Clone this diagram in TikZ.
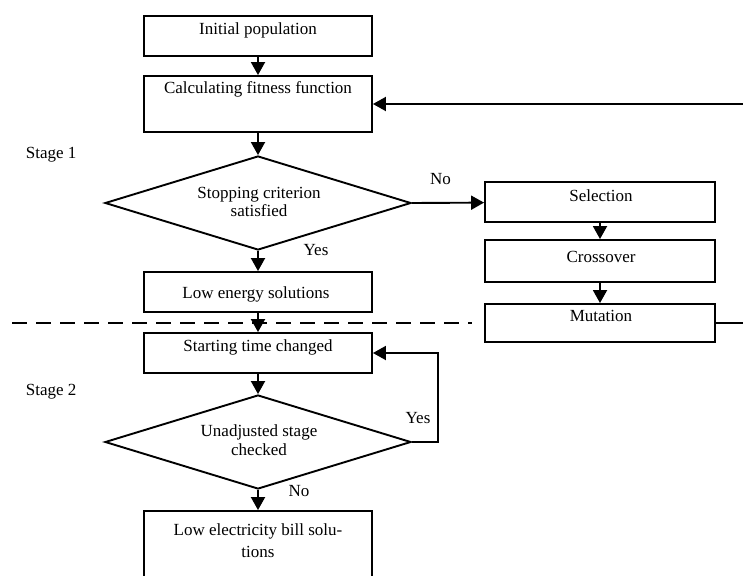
\documentclass[tikz,border=0pt]{standalone}
\usepackage{fontspec}
\setmainfont{Liberation Serif}
\usetikzlibrary{arrows.meta,shapes.geometric}
\begin{document}
\begin{tikzpicture}[x=1pt,y=-1pt,
  line width=1.9pt,
  box/.style={draw,rectangle,inner sep=0pt,line width=1.9pt},
  dia/.style={draw,diamond,inner sep=0pt,line width=1.9pt},
  txt/.style={font=\fontsize{17}{18}\selectfont,anchor=base,inner sep=0pt},
  arr/.style={-{Triangle[length=13pt,width=14pt]}},
  ]
\clip (0,0) rectangle (743,575);
\useasboundingbox (0,0) rectangle (743,575);
% boxes
\node[box,minimum width=228pt,minimum height=40pt] (init) at (258,36) {};
\node[box,minimum width=228pt,minimum height=56pt] (fit) at (258,104) {};
\node[dia,minimum width=306pt,minimum height=94pt] (d1) at (258,203) {};
\node[box,minimum width=230pt,minimum height=40pt] (sel) at (600,202) {};
\node[box,minimum width=230pt,minimum height=42pt] (cross) at (600,261) {};
\node[box,minimum width=230pt,minimum height=38pt] (mut) at (600,323) {};
\node[box,minimum width=228pt,minimum height=40pt] (low) at (258,292) {};
\node[box,minimum width=228pt,minimum height=40pt] (start) at (258,353) {};
\node[dia,minimum width=306pt,minimum height=94pt] (d2) at (258,442) {};
\node[box,minimum width=228pt,minimum height=80pt] (bill) at (258,551) {};
% texts
\node[txt] (t1) at (258,35) {Initial population};
\node[txt] (t2) at (258,94) {Calculating fitness function};
\node[txt] (t3) at (259,198) {Stopping criterion};
\node[txt] (t4) at (259,216) {satisfied};
\node[txt] (t5) at (601,201) {Selection};
\node[txt] (t6) at (601,262) {Crossover};
\node[txt] (t7) at (601,321) {Mutation};
\node[txt] (t8) at (256,298) {Low energy solutions};
\node[txt] (t9) at (258,351) {Starting time changed};
\node[txt] (t10) at (259,436.5) {Unadjusted stage};
\node[txt] (t11) at (259,455) {checked};
\node[txt] (t12) at (258,535.5) {Low electricity bill solu-};
\node[txt] (t13) at (258,557) {tions};
\node[txt,anchor=base west] (s1) at (25,158) {Stage 1};
\node[txt,anchor=base west] (s2) at (25,395.5) {Stage 2};
\node[txt] (no1) at (440.5,184) {No};
\node[txt] (yes1) at (316,255) {Yes};
\node[txt] (yes2) at (418,423) {Yes};
\node[txt] (no2) at (299,496) {No};
% coordinates at right edge
\coordinate (rin) at (745,104);
\coordinate (rout) at (745,323);
\coordinate (dl) at (12,323);
\coordinate (dr) at (472,323);
% connectors
\draw[arr] (init) -- (fit);
\draw[arr] (fit) -- (d1.north);
\draw[arr] (d1.south) -- (low);
\draw[arr] (d1.east) -- (sel);
\draw[arr] (sel) -- (cross);
\draw[arr] (cross) -- (mut);
\draw (mut.east) -- (rout);
\draw[arr] (rin) -- (fit.east);
\draw[arr] (low) -- (start);
\draw[arr] (start) -- (d2.north);
\draw[arr] (d2.east) -- ++(26,0) |- (start.east);
\draw[arr] (d2.south) -- (bill);
\draw[dash pattern=on 15pt off 9pt,line width=2pt] (dl) -- (dr);
\end{tikzpicture}
\end{document}
